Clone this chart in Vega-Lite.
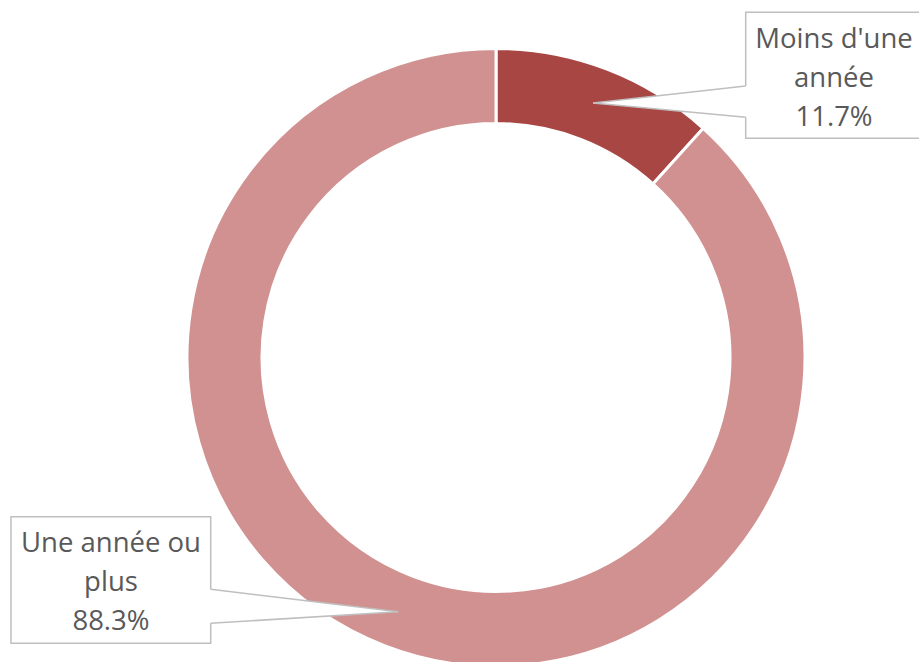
{
  "$schema": "https://vega.github.io/schema/vega-lite/v6.json",
  "width": 919,
  "height": 662,
  "padding": 0,
  "autosize": {"type": "none"},
  "background": "white",
  "config": {"view": {"stroke": null}},
  "data": {
    "values": [
      {"categorie": "Moins d'une année", "etiquette": "Moins d'une\nannée", "pourcentage": 11.7, "ordre": 1},
      {"categorie": "Une année ou plus", "etiquette": "Une année ou\nplus", "pourcentage": 88.3, "ordre": 2}
    ]
  },
  "transform": [
    {"calculate": "datum.etiquette + '\\n' + format(datum.pourcentage, '.1f') + '%'", "as": "texte"}
  ],
  "encoding": {
    "x": {"type": "quantitative", "scale": {"domain": [-1.60518, 1.36893], "nice": false, "zero": false}, "axis": null},
    "y": {"type": "quantitative", "scale": {"domain": [-0.98544, 1.15696], "nice": false, "zero": false}, "axis": null}
  },
  "layer": [
    {
      "mark": {"type": "arc", "outerRadius": 309, "innerRadius": 234, "stroke": "white", "strokeWidth": 3},
      "encoding": {
        "theta": {"field": "pourcentage", "type": "quantitative", "stack": true},
        "order": {"field": "ordre", "type": "quantitative"},
        "color": {
          "field": "categorie",
          "type": "nominal",
          "scale": {"domain": ["Moins d'une année", "Une année ou plus"], "range": ["#A84644", "#D09190"]},
          "legend": null
        },
        "x": {"datum": 0, "type": "quantitative"},
        "y": {"datum": 0, "type": "quantitative"}
      }
    },
    {
      "transform": [{"filter": "datum.ordre == 1"}],
      "layer": [
        {
          "mark": {"type": "arc", "innerRadius": 0, "outerRadius": 170, "theta": 1.46, "theta2": 1.664, "fill": "white"},
          "encoding": {"x": {"datum": 0.3139, "type": "quantitative"}, "y": {"datum": 0.8236, "type": "quantitative"}}
        },
        {
          "mark": {"type": "rect", "fill": "white", "stroke": "#BFBFBF", "strokeWidth": 1.5},
          "encoding": {
            "x": {"datum": 0.8081, "type": "quantitative"}, "x2": {"datum": 1.45},
            "y": {"datum": 1.1172, "type": "quantitative"}, "y2": {"datum": 0.7094}
          }
        },
        {
          "mark": {"type": "rule", "stroke": "white", "strokeWidth": 3},
          "encoding": {
            "x": {"datum": 0.8081, "type": "quantitative"},
            "y": {"datum": 0.8786, "type": "quantitative"}, "y2": {"datum": 0.7773}
          }
        },
        {
          "mark": {"type": "rule", "stroke": "#BFBFBF", "strokeWidth": 1.5},
          "encoding": {
            "x": {"datum": 0.3139, "type": "quantitative"}, "x2": {"datum": 0.8081},
            "y": {"datum": 0.8236, "type": "quantitative"}, "y2": {"datum": 0.8786}
          }
        },
        {
          "mark": {"type": "rule", "stroke": "#BFBFBF", "strokeWidth": 1.5},
          "encoding": {
            "x": {"datum": 0.3139, "type": "quantitative"}, "x2": {"datum": 0.8081},
            "y": {"datum": 0.8236, "type": "quantitative"}, "y2": {"datum": 0.7773}
          }
        },
        {
          "mark": {"type": "text", "font": "Open Sans", "fontSize": 27.5, "fill": "#595959", "align": "center", "baseline": "middle", "lineBreak": "\n", "lineHeight": 39},
          "encoding": {
            "x": {"datum": 1.0939, "type": "quantitative"},
            "y": {"datum": 1.0275, "type": "quantitative"},
            "text": {"field": "texte", "type": "nominal"}
          }
        }
      ]
    },
    {
      "transform": [{"filter": "datum.ordre == 2"}],
      "layer": [
        {
          "mark": {"type": "arc", "innerRadius": 0, "outerRadius": 200, "theta": 4.6506, "theta2": 4.8311, "fill": "white"},
          "encoding": {"x": {"datum": -0.3162, "type": "quantitative"}, "y": {"datum": -0.8227, "type": "quantitative"}}
        },
        {
          "mark": {"type": "rect", "fill": "white", "stroke": "#BFBFBF", "strokeWidth": 1.5},
          "encoding": {
            "x": {"datum": -1.5696, "type": "quantitative"}, "x2": {"datum": -0.9233},
            "y": {"datum": -0.5152, "type": "quantitative"}, "y2": {"datum": -0.9249}
          }
        },
        {
          "mark": {"type": "rule", "stroke": "white", "strokeWidth": 3},
          "encoding": {
            "x": {"datum": -0.9233, "type": "quantitative"},
            "y": {"datum": -0.7502, "type": "quantitative"}, "y2": {"datum": -0.8602}
          }
        },
        {
          "mark": {"type": "rule", "stroke": "#BFBFBF", "strokeWidth": 1.5},
          "encoding": {
            "x": {"datum": -0.3162, "type": "quantitative"}, "x2": {"datum": -0.9233},
            "y": {"datum": -0.8227, "type": "quantitative"}, "y2": {"datum": -0.7502}
          }
        },
        {
          "mark": {"type": "rule", "stroke": "#BFBFBF", "strokeWidth": 1.5},
          "encoding": {
            "x": {"datum": -0.3162, "type": "quantitative"}, "x2": {"datum": -0.9233},
            "y": {"datum": -0.8227, "type": "quantitative"}, "y2": {"datum": -0.8602}
          }
        },
        {
          "mark": {"type": "text", "font": "Open Sans", "fontSize": 27.5, "fill": "#595959", "align": "center", "baseline": "middle", "lineBreak": "\n", "lineHeight": 39},
          "encoding": {
            "x": {"datum": -1.246, "type": "quantitative"},
            "y": {"datum": -0.6036, "type": "quantitative"},
            "text": {"field": "texte", "type": "nominal"}
          }
        }
      ]
    }
  ]
}
